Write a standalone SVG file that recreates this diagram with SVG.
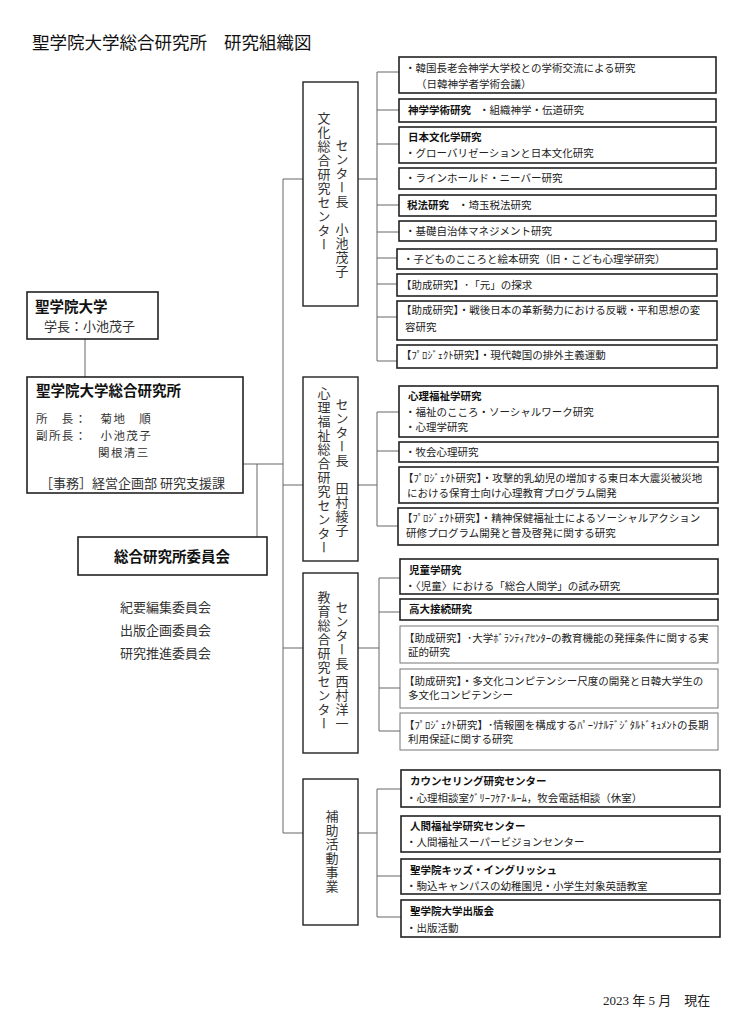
<svg xmlns="http://www.w3.org/2000/svg" width="750" height="1036" viewBox="0 0 750 1036">
<style>
text{font-family:"Noto Sans CJK JP","Noto Sans",sans-serif;fill:#222}
.t{font-size:10.5px}
.b{font-size:10.5px;font-weight:bold;fill:#111}
.box{fill:#fff;stroke:#222;stroke-width:1.6}
.lbox{fill:#fff;stroke:#777;stroke-width:1}
.cen{fill:#fff;stroke:#222;stroke-width:1.4}
.v{font-size:13px;writing-mode:vertical-rl;letter-spacing:1px;fill:#333}
.m{font-size:13px;fill:#333}
.s{font-size:11.5px;letter-spacing:1.4px;fill:#333}
.conn line{stroke:#666;stroke-width:1;fill:none}
</style>
<rect width="750" height="1036" fill="#fff"/>
<text x="32" y="49" style="font-size:17.5px;fill:#111">聖学院大学総合研究所</text>
<text x="224" y="49" style="font-size:17.5px;fill:#111">研究組織図</text>

<g class="conn">
<line x1="85" y1="339" x2="85" y2="377"/>
<line x1="243" y1="464" x2="283" y2="464"/>
<line x1="257" y1="464" x2="257" y2="537"/>
<line x1="283" y1="179" x2="283" y2="833"/>
<line x1="283" y1="179" x2="303" y2="179"/>
<line x1="283" y1="485" x2="303" y2="485"/>
<line x1="283" y1="648" x2="303" y2="648"/>
<line x1="283" y1="833" x2="303" y2="833"/>
<line x1="358" y1="179" x2="377" y2="179"/>
<line x1="377" y1="72" x2="377" y2="361"/>
<line x1="377" y1="72" x2="399" y2="72"/>
<line x1="377" y1="110" x2="399" y2="110"/>
<line x1="377" y1="144" x2="399" y2="144"/>
<line x1="377" y1="205" x2="399" y2="205"/>
<line x1="377" y1="232" x2="399" y2="232"/>
<line x1="377" y1="258" x2="397" y2="258"/>
<line x1="377" y1="284" x2="397" y2="284"/>
<line x1="377" y1="317" x2="397" y2="317"/>
<line x1="377" y1="361" x2="397" y2="361"/>
<line x1="358" y1="485" x2="377" y2="485"/>
<line x1="377" y1="412" x2="377" y2="526"/>
<line x1="377" y1="412" x2="399" y2="412"/>
<line x1="377" y1="451" x2="399" y2="451"/>
<line x1="377" y1="526" x2="398" y2="526"/>
<line x1="358" y1="648" x2="379" y2="648"/>
<line x1="379" y1="578" x2="379" y2="731"/>
<line x1="379" y1="578" x2="400" y2="578"/>
<line x1="379" y1="612" x2="400" y2="612"/>
<line x1="379" y1="688" x2="400" y2="688"/>
<line x1="379" y1="731" x2="400" y2="731"/>
<line x1="358" y1="833" x2="377" y2="833"/>
<line x1="377" y1="789" x2="377" y2="917"/>
<line x1="377" y1="789" x2="401" y2="789"/>
<line x1="377" y1="876" x2="401" y2="876"/>
<line x1="377" y1="917" x2="401" y2="917"/>
</g>

<g id="univ">
<rect class="box" x="27" y="292" width="131" height="47"/>
<text x="35" y="312" style="font-size:14.5px;font-weight:bold;fill:#111">聖学院大学</text>
<text x="44" y="331" class="m">学長：小池茂子</text>
</g>

<g id="institute">
<rect class="box" x="27" y="377" width="216" height="116"/>
<text x="36" y="396" style="font-size:14.5px;font-weight:bold;fill:#111">聖学院大学総合研究所</text>
<text x="36" y="423" class="s">所　長：　菊地　順</text>
<text x="36" y="440" class="s">副所長：　小池茂子</text>
<text x="98" y="457" class="s">関根清三</text>
<text x="40" y="488" class="m">［事務］経営企画部 研究支援課</text>
</g>

<g id="committee">
<rect class="box" x="78" y="537" width="189" height="38"/>
<text x="172" y="562" text-anchor="middle" style="font-size:14.5px;font-weight:bold;fill:#111">総合研究所委員会</text>
</g>

<g id="committees">
<text x="120" y="612" class="m">紀要編集委員会</text>
<text x="120" y="635" class="m">出版企画委員会</text>
<text x="120" y="658" class="m">研究推進委員会</text>
</g>

<g id="bunka">
<rect class="cen" x="303" y="82" width="55" height="224"/>
<text x="324" y="112" class="v">文化総合研究センター</text>
<text x="342" y="139" class="v">センター長　小池茂子</text>
</g>
<g id="bunka-1"><rect class="box" x="399" y="57" width="317" height="36"/>
<text x="405" y="72" class="t">・韓国長老会神学大学校との学術交流による研究</text>
<text x="416" y="88" class="t">（日韓神学者学術会議）</text></g>
<g id="bunka-2"><rect class="box" x="399" y="99" width="317" height="23"/>
<text x="408" y="114" class="b">神学学術研究</text>
<text x="479" y="114" class="t">・組織神学・伝道研究</text></g>
<g id="bunka-3"><rect class="box" x="399" y="127" width="317" height="36"/>
<text x="408" y="141" class="b">日本文化学研究</text>
<text x="405" y="157" class="t">・グローバリゼーションと日本文化研究</text></g>
<g id="bunka-4"><rect class="box" x="399" y="168" width="317" height="21"/>
<text x="405" y="182" class="t">・ラインホールド・ニーバー研究</text></g>
<g id="bunka-5"><rect class="box" x="399" y="195" width="317" height="21"/>
<text x="407" y="209" class="b">税法研究</text>
<text x="458" y="209" class="t">・埼玉税法研究</text></g>
<g id="bunka-6"><rect class="box" x="399" y="221" width="317" height="20"/>
<text x="405" y="235" class="t">・基礎自治体マネジメント研究</text></g>
<g id="bunka-7"><rect class="box" x="397" y="249" width="320" height="20"/>
<text x="403" y="263" class="t">・子どものこころと絵本研究（旧・こども心理学研究）</text></g>
<g id="bunka-8"><rect class="box" x="397" y="274" width="320" height="22"/>
<text x="401" y="289" class="t">【助成研究】･「元」の探求</text></g>
<g id="bunka-9"><rect class="box" x="397" y="301" width="320" height="39"/>
<text x="401" y="314" class="t">【助成研究】・戦後日本の革新勢力における反戦・平和思想の変</text>
<text x="405" y="331" class="t">容研究</text></g>
<g id="bunka-10"><rect class="box" x="397" y="345" width="320" height="23"/>
<text x="401" y="359" class="t">【ﾌﾟﾛｼﾞｪｸﾄ研究】・現代韓国の排外主義運動</text></g>

<g id="shinri">
<rect class="cen" x="303" y="377" width="55" height="184"/>
<text x="324" y="387" class="v">心理福祉総合研究センター</text>
<text x="342" y="398" class="v">センター長　田村綾子</text>
</g>
<g id="shinri-1"><rect class="box" x="399" y="386" width="319" height="51"/>
<text x="408" y="400" class="b">心理福祉学研究</text>
<text x="405" y="416" class="t">・福祉のこころ・ソーシャルワーク研究</text>
<text x="405" y="431" class="t">・心理学研究</text></g>
<g id="shinri-2"><rect class="box" x="399" y="442" width="319" height="20"/>
<text x="405" y="456" class="t">・牧会心理研究</text></g>
<g id="shinri-3"><rect class="box" x="399" y="467" width="319" height="36"/>
<text x="403" y="482" class="t">【ﾌﾟﾛｼﾞｪｸﾄ研究】・攻撃的乳幼児の増加する東日本大震災被災地</text>
<text x="407" y="497" class="t">における保育士向け心理教育プログラム開発</text></g>
<g id="shinri-4"><rect class="box" x="398" y="508" width="320" height="37"/>
<text x="402" y="522" class="t">【ﾌﾟﾛｼﾞｪｸﾄ研究】・精神保健福祉士によるソーシャルアクション</text>
<text x="406" y="537" class="t">研修プログラム開発と普及啓発に関する研究</text></g>

<g id="kyoiku">
<rect class="cen" x="303" y="573" width="55" height="180"/>
<text x="324" y="591" class="v">教育総合研究センター</text>
<text x="342" y="601" class="v">センター長 西村洋一</text>
</g>
<g id="kyoiku-1"><rect class="box" x="400" y="559" width="318" height="35"/>
<text x="409" y="574" class="b">児童学研究</text>
<text x="405" y="590" class="t">・〈児童〉における「総合人間学」の試み研究</text></g>
<g id="kyoiku-2"><rect class="box" x="400" y="599" width="318" height="21"/>
<text x="409" y="613" class="b">高大接続研究</text></g>
<g id="kyoiku-3"><rect class="lbox" x="400" y="626" width="318" height="37"/>
<text x="404" y="642" class="t">【助成研究】･大学ﾎﾞﾗﾝﾃｨｱｾﾝﾀｰの教育機能の発揮条件に関する実</text>
<text x="408" y="656" class="t">証的研究</text></g>
<g id="kyoiku-4"><rect class="lbox" x="400" y="669" width="318" height="39"/>
<text x="404" y="685" class="t">【助成研究】・多文化コンピテンシー尺度の開発と日韓大学生の</text>
<text x="408" y="699" class="t">多文化コンピテンシー</text></g>
<g id="kyoiku-5"><rect class="lbox" x="400" y="713" width="318" height="37"/>
<text x="404" y="729" class="t">【ﾌﾟﾛｼﾞｪｸﾄ研究】･情報圏を構成するﾊﾟｰｿﾅﾙﾃﾞｼﾞﾀﾙﾄﾞｷｭﾒﾝﾄの長期</text>
<text x="408" y="743" class="t">利用保証に関する研究</text></g>

<g id="hojo">
<rect class="cen" x="303" y="779" width="55" height="146"/>
<text x="332" y="810" class="v">補助活動事業</text>
</g>
<g id="hojo-1"><rect class="box" x="401" y="770" width="319" height="37"/>
<text x="410" y="785" class="b">カウンセリング研究センター</text>
<text x="406" y="802" class="t">・心理相談室ｸﾞﾘｰﾌｹｱ･ﾙｰﾑ，牧会電話相談（休室）</text></g>
<g id="hojo-2"><rect class="box" x="401" y="816" width="319" height="36"/>
<text x="410" y="830" class="b">人間福祉学研究センター</text>
<text x="406" y="846" class="t">・人間福祉スーパービジョンセンター</text></g>
<g id="hojo-3"><rect class="box" x="401" y="859" width="319" height="35"/>
<text x="410" y="874" class="b">聖学院キッズ・イングリッシュ</text>
<text x="406" y="890" class="t">・駒込キャンパスの幼稚園児・小学生対象英語教室</text></g>
<g id="hojo-4"><rect class="box" x="401" y="900" width="319" height="37"/>
<text x="410" y="915" class="b">聖学院大学出版会</text>
<text x="406" y="932" class="t">・出版活動</text></g>

<text x="603" y="1005" style="font-family:'Liberation Serif','Noto Sans CJK JP',serif;font-size:13px;fill:#222">2023 年 5 月　現在</text>
</svg>
